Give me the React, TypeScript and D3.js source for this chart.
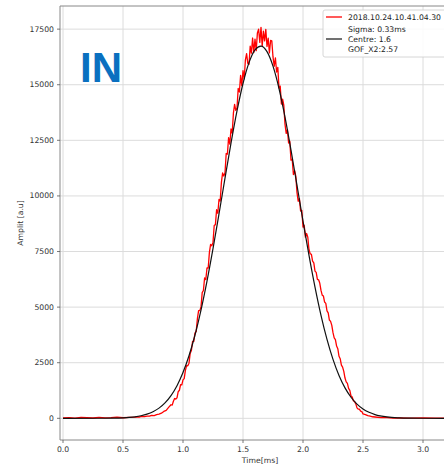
import React from 'react';
import * as d3 from 'd3';

// fitted curve (black)
const fitT = [0, 0.3, 0.4, 0.5, 0.55, 0.6, 0.65, 0.7, 0.75, 0.8, 0.85, 0.9, 0.95, 1.0, 1.05, 1.1, 1.15, 1.2, 1.25, 1.3, 1.35, 1.4, 1.45, 1.5, 1.55, 1.6, 1.65, 1.7, 1.75, 1.8, 1.85, 1.9, 1.95, 2.0, 2.05, 2.1, 2.15, 2.2, 2.25, 2.3, 2.35, 2.4, 2.45, 2.5, 2.55, 2.6, 2.7, 2.8, 2.9, 3.0, 3.4];
const fitV = [0, 2, 9, 23, 40, 68, 115, 186, 296, 458, 693, 1021, 1468, 2058, 2812, 3746, 4869, 6170, 7627, 9190, 10797, 12371, 13820, 15056, 15995, 16571, 16740, 16487, 15835, 14830, 13545, 12063, 10476, 8872, 7325, 5899, 4631, 3546, 2648, 1927, 1369, 948, 639, 420, 270, 169, 61, 20, 6, 2, 0];

// measured signal (red)
const sigT = [0, 0.05, 0.1, 0.15, 0.2, 0.25, 0.3, 0.35, 0.4, 0.45, 0.5, 0.55, 0.6, 0.62, 0.64, 0.66, 0.68, 0.7, 0.72, 0.74, 0.76, 0.78, 0.8, 0.82, 0.84, 0.86, 0.88,
  0.9, 0.91, 0.92, 0.93, 0.94, 0.95, 0.96, 0.97, 0.98, 0.99,
  1.0, 1.01, 1.02, 1.03, 1.04, 1.05, 1.06, 1.07, 1.08, 1.09,
  1.1, 1.11, 1.12, 1.13, 1.14, 1.15, 1.16, 1.17, 1.18, 1.19,
  1.2, 1.21, 1.22, 1.23, 1.24, 1.25, 1.26, 1.27, 1.28, 1.29,
  1.3, 1.31, 1.32, 1.33, 1.34, 1.35, 1.36, 1.37, 1.38, 1.39,
  1.4, 1.41, 1.42, 1.43, 1.44, 1.45, 1.46, 1.47, 1.48, 1.49,
  1.5, 1.51, 1.52, 1.53, 1.54, 1.55, 1.56, 1.57, 1.58, 1.59,
  1.6, 1.61, 1.62, 1.63, 1.64, 1.65, 1.66, 1.67, 1.68, 1.69,
  1.7, 1.71, 1.72, 1.73, 1.74, 1.75, 1.76, 1.77, 1.78, 1.79,
  1.8, 1.81, 1.82, 1.83, 1.84, 1.85, 1.86, 1.87, 1.88, 1.89,
  1.9, 1.91, 1.92, 1.93, 1.94, 1.95, 1.96, 1.97, 1.98, 1.99,
  2.0, 2.01, 2.02, 2.03, 2.04, 2.05, 2.06, 2.07, 2.08, 2.09,
  2.1, 2.11, 2.12, 2.13, 2.14, 2.15, 2.16, 2.17, 2.18, 2.19,
  2.2, 2.21, 2.22, 2.23, 2.24, 2.25, 2.26, 2.27, 2.28, 2.29,
  2.3, 2.31, 2.32, 2.33, 2.34, 2.35, 2.36, 2.37, 2.38, 2.39,
  2.4, 2.41, 2.42, 2.43, 2.44, 2.45, 2.46, 2.47, 2.48, 2.49,
  2.5, 2.52, 2.54, 2.56, 2.58, 2.6, 2.65, 2.7, 2.75, 2.8, 2.9, 3.0, 3.1, 3.2, 3.3, 3.4];
const sigV = [20, 35, 10, 40, 25, 15, 45, 20, 30, 50, 25, 45, 55, 70, 60, 85, 80, 100, 95, 130, 125, 170, 190, 230, 310, 360, 490,
  610, 594, 768, 892, 866, 920, 1196, 1262, 1518, 1504,
  1730, 1786, 2152, 2368, 2364, 2480, 2930, 3050, 3460, 3460,
  3840, 3900, 4480, 4840, 4840, 5010, 5650, 5750, 6310, 6240,
  6760, 6760, 7460, 7820, 7760, 7910, 8670, 8710, 9380, 9220,
  9840, 9770, 10610, 11030, 10890, 11040, 11910, 11880, 12620, 12330,
  13010, 12820, 13720, 14120, 13850, 13950, 14830, 14670, 15420, 14960,
  15630, 15260, 16120, 16400, 15960, 15920, 16740, 16420, 17100, 16450,
  17050, 16530, 17330, 17500, 16900, 17580, 16740, 17410, 16970, 17490,
  16720, 17090, 16430, 16990, 16970, 16250, 15830, 16210, 15570, 15780,
  14850, 14940, 14130, 14350, 14080, 13230, 12810, 12980, 12380, 12460,
  11610, 11650, 10960, 11140, 10890, 10150, 9760, 9880, 9320, 9350,
  8600, 8680, 8150, 8310, 8140, 7580, 7400, 7370, 7070, 6990,
  6620, 6560, 6250, 6230, 6070, 5750, 5540, 5500, 5230, 5170,
  4830, 4740, 4420, 4360, 4180, 3850, 3620, 3540, 3250, 3130,
  2790, 2680, 2390, 2300, 2110, 1810, 1640, 1570, 1350, 1260,
  1010, 960, 790, 750, 650, 470, 414, 413, 322, 306,
  200, 170, 120, 100, 70, 60, 35, 30, 15, 20, 10, 15, 5, 10, 5, 0];

const xTicks = [0, 0.5, 1.0, 1.5, 2.0, 2.5, 3.0];
const yTicks = [0, 2500, 5000, 7500, 10000, 12500, 15000, 17500];
const legendLabels = ['2018.10.24.10.41.04.30', 'Sigma: 0.33ms', 'Centre: 1.6', 'GOF_X2:2.57'];

const W = 444;
const H = 468;
const font = 'DejaVu Sans, sans-serif';

export default function App() {
  const x = d3.scaleLinear().domain([-0.025, 3.35]).range([60, 465]);
  const y = d3.scaleLinear().domain([-975, 18540]).range([440, 6]);
  const [x0, x1] = x.range();
  const [y0, y1] = y.range();

  const line = d3.line<[number, number]>()
    .x((d) => x(d[0]))
    .y((d) => y(d[1]));
  const fitLine = d3.line<[number, number]>()
    .x((d) => x(d[0]))
    .y((d) => y(d[1]))
    .curve(d3.curveMonotoneX);

  const sig = sigT.map((t, i) => [t, sigV[i]] as [number, number]);
  const fit = fitT.map((t, i) => [t, fitV[i]] as [number, number]);

  return (
    <svg width={W} height={H} style={{ position: 'absolute', left: 0, top: 0, background: '#fff' }}>
      <defs>
        <clipPath id="plot">
          <rect x={x0} y={y1} width={x1 - x0} height={y0 - y1} />
        </clipPath>
      </defs>
      {/* grid */}
      <g stroke="#dcdcdc" strokeWidth={1}>
        {xTicks.map((t) => (
          <line key={'gx' + t} x1={x(t)} x2={x(t)} y1={y1} y2={y0} />
        ))}
        {yTicks.map((v) => (
          <line key={'gy' + v} x1={x0} x2={x1} y1={y(v)} y2={y(v)} />
        ))}
      </g>
      <g clipPath="url(#plot)" fill="none">
        <path d={line(sig) || ''} stroke="#ff0000" strokeWidth={1.3} strokeLinejoin="round" />
        <path d={fitLine(fit) || ''} stroke="#111" strokeWidth={1.2} />
      </g>
      {/* spines */}
      <g stroke="#888" strokeWidth={1} fill="none">
        <line x1={x0} x2={x0} y1={y1} y2={y0} />
        <line x1={x0} x2={x1} y1={y0} y2={y0} />
        <line x1={x0} x2={x1} y1={y1} y2={y1} />
      </g>
      {/* ticks */}
      <g stroke="#555" strokeWidth={0.8}>
        {xTicks.map((t) => (
          <line key={'tx' + t} x1={x(t)} x2={x(t)} y1={y0} y2={y0 + 3} />
        ))}
        {yTicks.map((v) => (
          <line key={'ty' + v} x1={x0 - 3} x2={x0} y1={y(v)} y2={y(v)} />
        ))}
      </g>
      <g fontFamily={font} fontSize={7.7} fill="#333">
        {xTicks.map((t) => (
          <text key={'lx' + t} x={x(t)} y={y0 + 9} textAnchor="middle" dominantBaseline="central">
            {t.toFixed(1)}
          </text>
        ))}
        {yTicks.map((v) => (
          <text key={'ly' + v} x={x0 - 6} y={y(v)} textAnchor="end" dominantBaseline="central">
            {v}
          </text>
        ))}
        <text x={260} y={460} textAnchor="middle" dominantBaseline="central">Time[ms]</text>
        <text transform="translate(20,223) rotate(-90)" textAnchor="middle" dominantBaseline="central">
          Amplit [a.u]
        </text>
      </g>
      {/* legend */}
      <g fontFamily={font} fontSize={7.7} fill="#222">
        <rect x={323} y={10} width={140} height={47} rx={2} fill="#fff" fillOpacity={0.85} stroke="#ccc" strokeWidth={0.8} />
        <line x1={326} x2={342} y1={17} y2={17} stroke="#ff0000" strokeWidth={1.3} />
        <line x1={326} x2={342} y1={39} y2={39} stroke="#111" strokeWidth={1.2} />
        <text x={348} y={17} dominantBaseline="central">{legendLabels[0]}</text>
        <text x={348} y={29} dominantBaseline="central">{legendLabels[1]}</text>
        <text x={348} y={39} dominantBaseline="central">{legendLabels[2]}</text>
        <text x={348} y={49} dominantBaseline="central">{legendLabels[3]}</text>
      </g>
      <text x={80} y={82} fontFamily="Liberation Sans, Arial, sans-serif" fontWeight="bold" fontSize={42} fill="#0a70c0">
        IN
      </text>
    </svg>
  );
}
